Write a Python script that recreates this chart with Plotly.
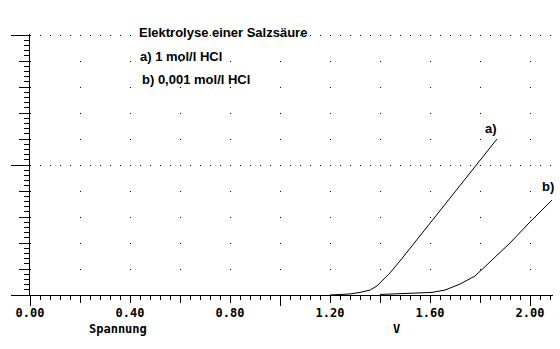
import plotly.graph_objects as go

# Electrolysis of hydrochloric acid: current vs. voltage
volt_a = [1.20, 1.23, 1.28, 1.32, 1.36, 1.388, 1.412, 1.44, 1.48, 1.56, 1.64, 1.72, 1.80, 1.868]
curr_a = [0.0, 0.01, 0.04, 0.10, 0.19, 0.35, 0.58, 0.85, 1.31, 2.27, 3.23, 4.19, 5.15, 6.0]

volt_b = [1.40, 1.48, 1.56, 1.608, 1.66, 1.72, 1.78, 1.84, 1.92, 2.00, 2.088]
curr_b = [0.02, 0.04, 0.06, 0.10, 0.19, 0.42, 0.73, 1.27, 2.00, 2.81, 3.65]

x_tick_vals = [0.0, 0.2, 0.4, 0.6, 0.8, 1.0, 1.2, 1.4, 1.6, 1.8, 2.0]
x_tick_text = ["0.00", "", "0.40", "", "0.80", "", "1.20", "", "1.60", "", "2.00"]

title_text = "Elektrolyse einer Salzsäure"
legend_a = "a) 1 mol/l HCl"
legend_b = "b) 0,001 mol/l HCl"
x_title = "Spannung"
x_unit = "V"

X_RANGE = [0, 2.092]
Y_RANGE = [0, 10.04]
MONO = "DejaVu Sans Mono"
SANS = "Liberation Sans"

fig = go.Figure()
fig.add_trace(go.Scatter(x=volt_a, y=curr_a, mode="lines",
                         line=dict(color="black", width=1), showlegend=False))
fig.add_trace(go.Scatter(x=volt_b, y=curr_b, mode="lines",
                         line=dict(color="black", width=1), showlegend=False))
# empty traces so the overlaid tick axes get their own subplots
for xa, ya in [("x2", "y"), ("x3", "y"), ("x", "y2"), ("x", "y3")]:
    fig.add_trace(go.Scatter(x=[], y=[], xaxis=xa, yaxis=ya, showlegend=False))

common = dict(showgrid=False, zeroline=False, ticks="outside",
              tickcolor="black", tickwidth=1)

fig.update_layout(
    width=560, height=349,
    margin=dict(l=30, r=7, t=34, b=54),
    paper_bgcolor="white", plot_bgcolor="white",
    xaxis=dict(range=X_RANGE, tickmode="array", tickvals=x_tick_vals,
               ticktext=x_tick_text, ticklen=7, showline=True,
               linecolor="black", linewidth=1,
               tickfont=dict(family=MONO, size=12, color="black", weight="bold"),
               **common),
    xaxis2=dict(range=X_RANGE, overlaying="x", anchor="y", side="bottom",
                tickmode="linear", tick0=0, dtick=0.04, ticklen=4,
                showticklabels=False, showline=False, **common),
    xaxis3=dict(range=X_RANGE, overlaying="x", anchor="y", side="bottom",
                tickmode="array", tickvals=[0, 1, 2], ticklen=10,
                showticklabels=False, showline=False, **common),
    yaxis=dict(range=Y_RANGE, tickmode="linear", tick0=0, dtick=1, ticklen=10,
               showticklabels=False, showline=True, linecolor="black",
               linewidth=1, ticks="outside", tickcolor="black", tickwidth=1,
               zeroline=False, showgrid=True, gridcolor="black", gridwidth=1,
               griddash="1px,49px"),
    yaxis2=dict(range=Y_RANGE, overlaying="y", anchor="x", side="left",
                tickmode="linear", tick0=0, dtick=0.2, ticklen=5,
                showticklabels=False, showline=False, **common),
    yaxis3=dict(range=Y_RANGE, overlaying="y", anchor="x", side="left",
                tickmode="array", tickvals=[0, 5, 10], ticklen=18,
                showticklabels=False, showline=False, zeroline=False,
                ticks="outside", tickcolor="black", tickwidth=1,
                showgrid=True, gridcolor="black", gridwidth=1,
                griddash="1px,9px"),
)

txt_font = dict(family=SANS, size=13, color="black", weight="bold")
# header block, placed in paper coordinates of the plot area
notes = [
    (0.204, 1.007, title_text),
    (0.207, 0.915, legend_a),
    (0.211, 0.824, legend_b),
]
for x, y, t in notes:
    fig.add_annotation(x=x, y=y, xref="paper", yref="paper", text=t,
                       showarrow=False, xanchor="left", yanchor="middle",
                       font=txt_font)

fig.add_annotation(x=volt_a[-1], y=curr_a[-1], xref="x", yref="y", text="a)",
                   showarrow=False, xanchor="center", yanchor="bottom",
                   xshift=-6, yshift=1, font=txt_font)
fig.add_annotation(x=volt_b[-1], y=curr_b[-1], xref="x", yref="y", text="b)",
                   showarrow=False, xanchor="center", yanchor="bottom",
                   xshift=-4, yshift=4, font=txt_font)

ax_font = dict(family=MONO, size=12, color="black", weight="bold")
fig.add_annotation(x=0.352, y=-0.13, xref="x", yref="paper", text=x_title,
                   showarrow=False, xanchor="center", yanchor="middle",
                   font=ax_font)
fig.add_annotation(x=1.464, y=-0.13, xref="x", yref="paper", text=x_unit,
                   showarrow=False, xanchor="center", yanchor="middle",
                   font=ax_font)

fig.write_html("out.html")
